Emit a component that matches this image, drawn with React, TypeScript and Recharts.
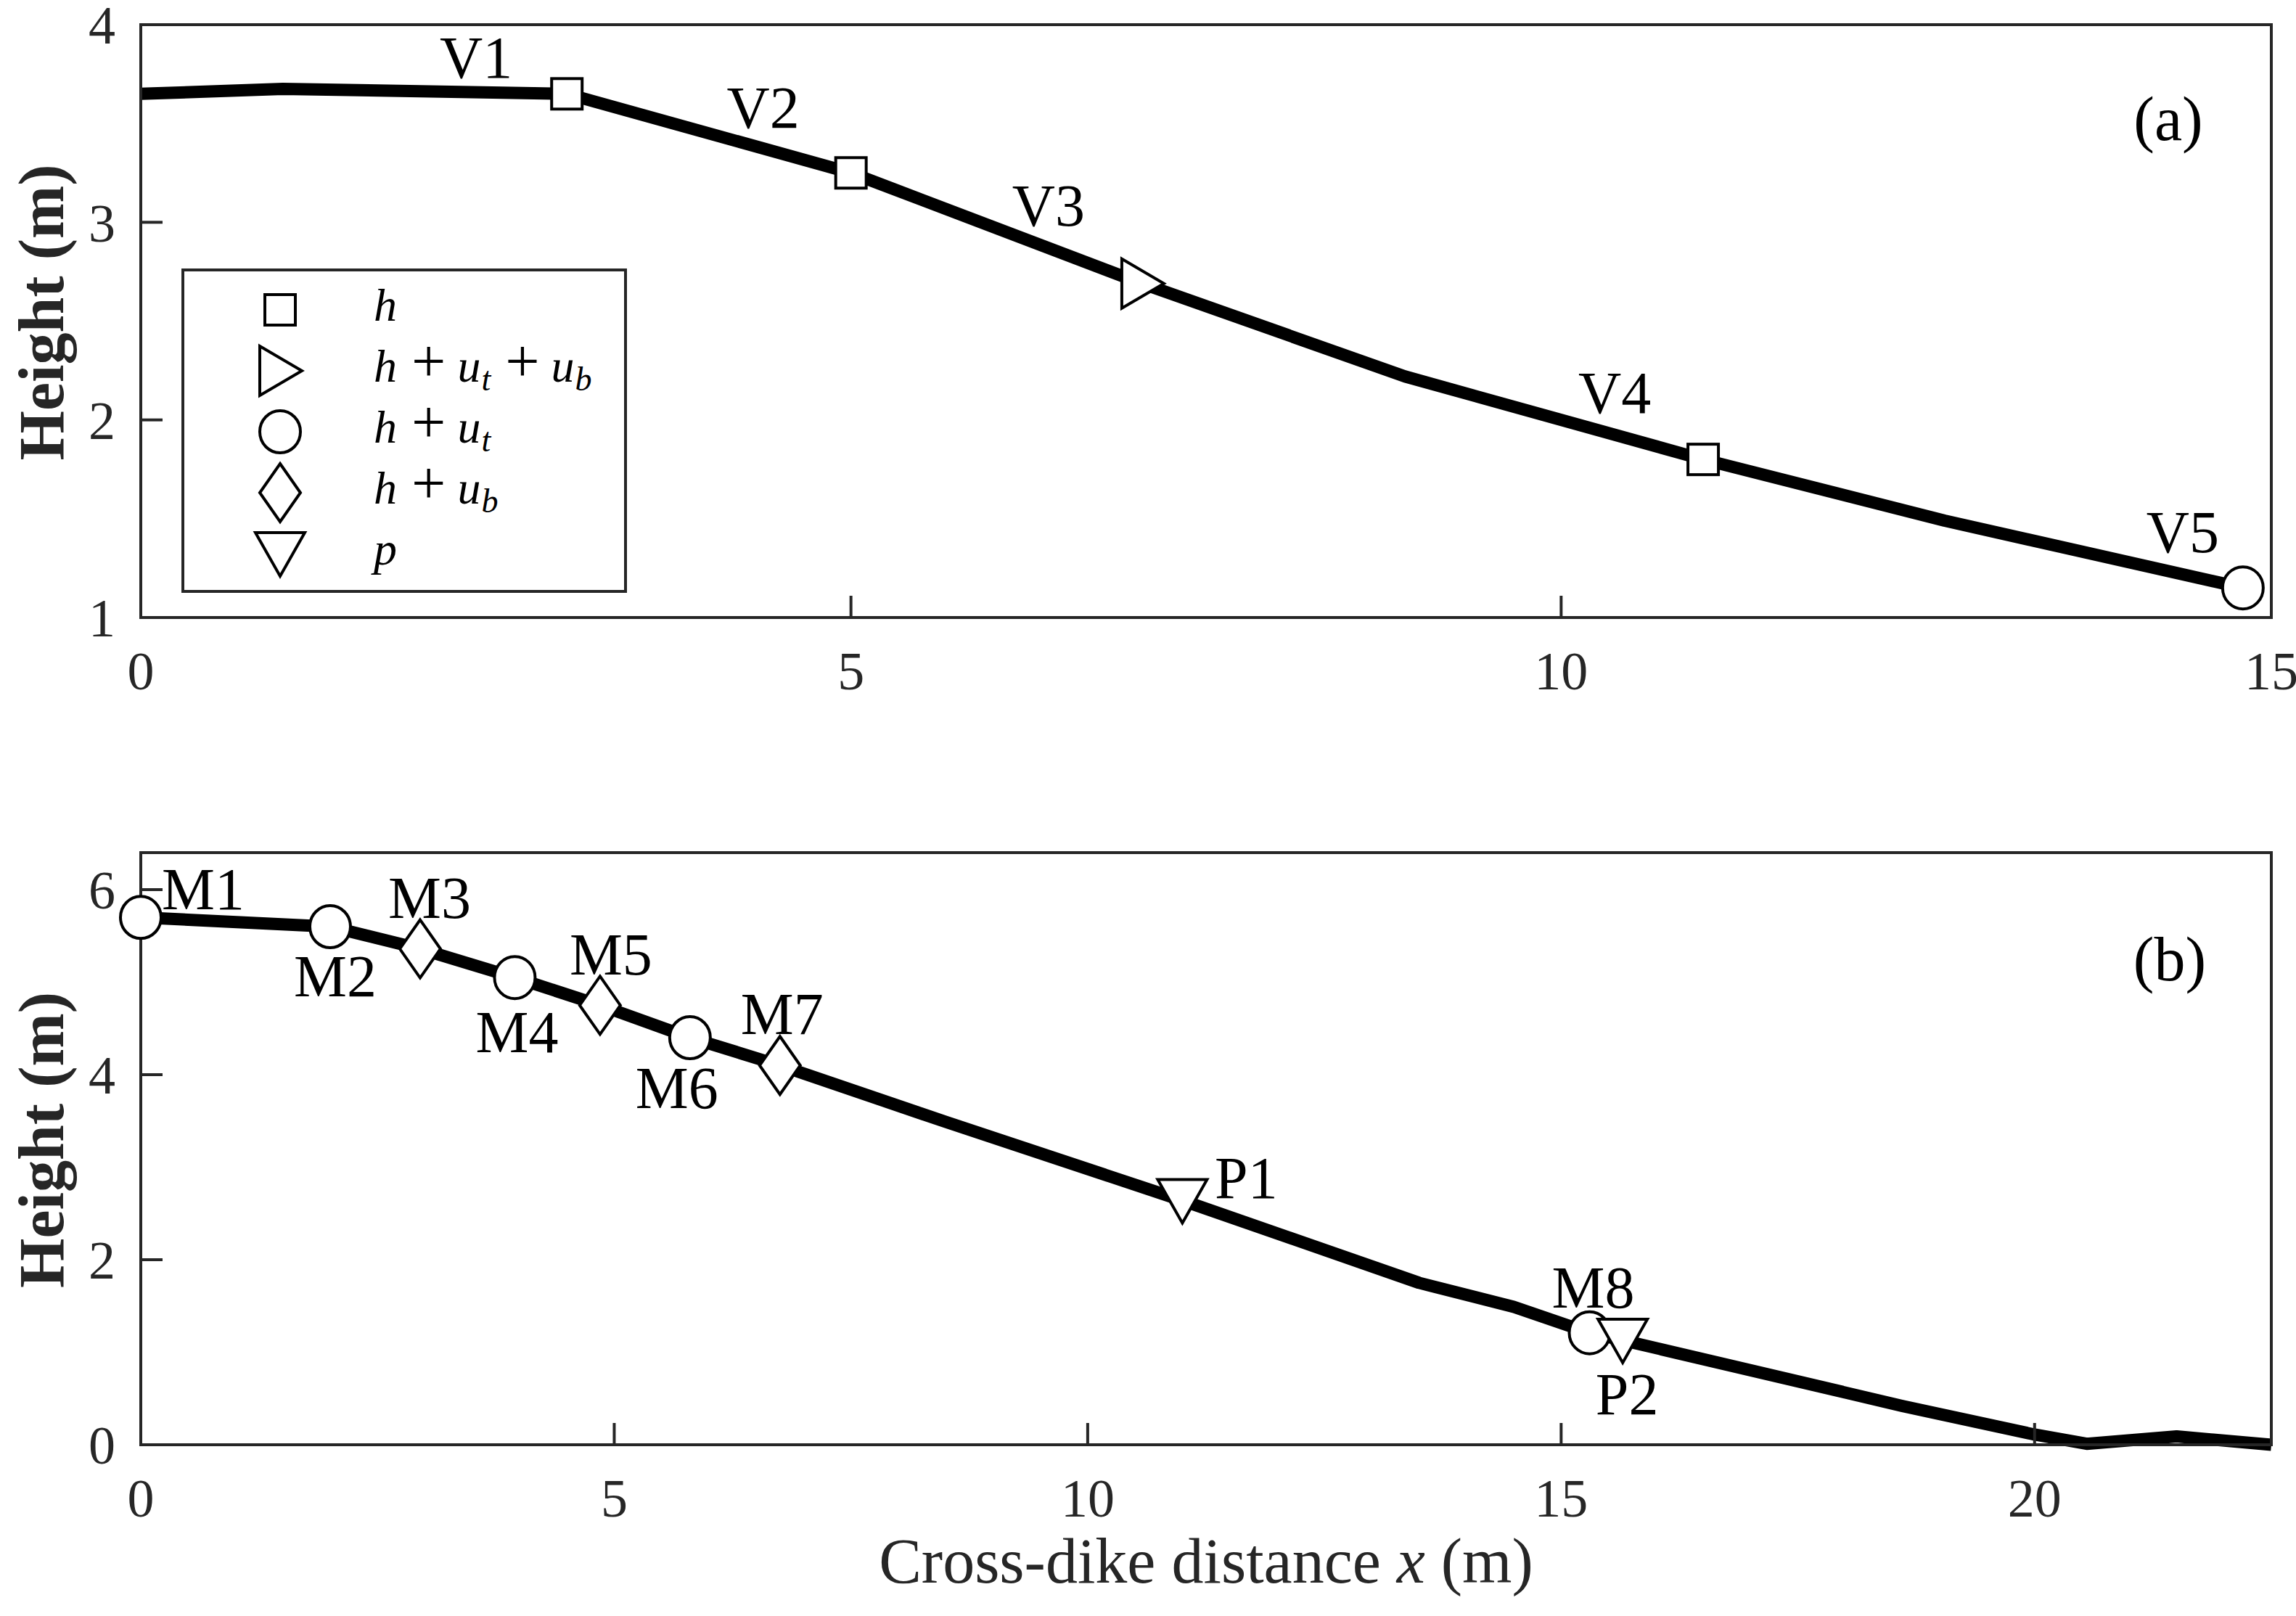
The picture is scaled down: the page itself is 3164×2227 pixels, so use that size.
import React from 'react';
import { ComposedChart, Line, Scatter, XAxis, YAxis, Legend, Label } from 'recharts';

// ---------- data: panel (a) ----------
const TOP_X_TICKS = [0, 5, 10, 15];
const TOP_Y_TICKS = [1, 2, 3, 4];
const TOP_PROFILE = [
  { x: 0, y: 3.65 },
  { x: 1.0, y: 3.675 },
  { x: 3.0, y: 3.65 },
  { x: 5.0, y: 3.25 },
  { x: 7.05, y: 2.69 },
  { x: 8.9, y: 2.22 },
  { x: 11.0, y: 1.8 },
  { x: 12.7, y: 1.49 },
  { x: 14.8, y: 1.15 },
];
const TOP_SQUARES = [
  { name: 'V1', x: 3.0, y: 3.65 },
  { name: 'V2', x: 5.0, y: 3.25 },
  { name: 'V4', x: 11.0, y: 1.8 },
];
const TOP_TRIANGLES_RIGHT = [{ name: 'V3', x: 7.05, y: 2.69 }];
const TOP_CIRCLES = [{ name: 'V5', x: 14.8, y: 1.15 }];

// ---------- data: panel (b) ----------
const BOTTOM_X_TICKS = [0, 5, 10, 15, 20];
const BOTTOM_Y_TICKS = [0, 2, 4, 6];
const BOTTOM_PROFILE = [
  { x: 0, y: 5.7 },
  { x: 2.0, y: 5.6 },
  { x: 2.95, y: 5.36 },
  { x: 3.95, y: 5.05 },
  { x: 4.85, y: 4.75 },
  { x: 5.8, y: 4.4 },
  { x: 6.75, y: 4.1 },
  { x: 8.5, y: 3.49 },
  { x: 11.0, y: 2.64 },
  { x: 13.5, y: 1.75 },
  { x: 14.5, y: 1.49 },
  { x: 15.3, y: 1.21 },
  { x: 15.65, y: 1.13 },
  { x: 18.6, y: 0.42 },
  { x: 20.0, y: 0.11 },
  { x: 20.55, y: 0.01 },
  { x: 21.5, y: 0.09 },
  { x: 22.5, y: 0.0 },
];
const BOTTOM_CIRCLES = [
  { name: 'M1', x: 0, y: 5.7 },
  { name: 'M2', x: 2.0, y: 5.6 },
  { name: 'M4', x: 3.95, y: 5.05 },
  { name: 'M6', x: 5.8, y: 4.4 },
  { name: 'M8', x: 15.3, y: 1.21 },
];
const BOTTOM_DIAMONDS = [
  { name: 'M3', x: 2.95, y: 5.36 },
  { name: 'M5', x: 4.85, y: 4.75 },
  { name: 'M7', x: 6.75, y: 4.1 },
];
const BOTTOM_TRIANGLES_DOWN = [
  { name: 'P1', x: 11.0, y: 2.64 },
  { name: 'P2', x: 15.65, y: 1.13 },
];

const LEGEND_ITEMS = [
  { kind: 'square', label: 'h' },
  { kind: 'triangleRight', label: 'h+u_t+u_b' },
  { kind: 'circle', label: 'h+u_t' },
  { kind: 'diamond', label: 'h+u_b' },
  { kind: 'triangleDown', label: 'p' },
];

// ---------- styles ----------
const FONT = '"Liberation Serif", "Times New Roman", Times, serif';
const AXIS_COLOR = '#262626';
const W = 3164;
const TICK_FONT = 74;
const LABEL_FONT = 82;
const AXIS_LABEL_FONT = 88;
const PROFILE_WIDTH = 17;

// label offsets (px) of point names relative to their marker centre
const LABEL_OFFSETS: Record<string, [number, number]> = {
  V1: [-125, -49],
  V2: [-121, -89],
  V3: [-129, -107],
  V4: [-122, -91],
  V5: [-83, -76],
  M1: [86, -38],
  M2: [7, 69],
  M3: [13, -70],
  M4: [3, 76],
  M5: [15, -69],
  M6: [-18, 70],
  M7: [3, -70],
  M8: [5, -62],
  P1: [88, -30],
  P2: [6, 75],
};

function Marker({ kind, cx, cy }: { kind: string; cx: number; cy: number }) {
  const common = { fill: '#fff', stroke: '#000', strokeWidth: 4, strokeLinejoin: 'miter' as const };
  switch (kind) {
    case 'square':
      return <rect x={cx - 21} y={cy - 21} width={42} height={42} {...common} />;
    case 'circle':
      return <ellipse cx={cx} cy={cy} rx={28} ry={29} {...common} />;
    case 'triangleRight':
      return <polygon points={`${cx - 28},${cy - 34} ${cx + 30},${cy} ${cx - 28},${cy + 34}`} {...common} />;
    case 'diamond':
      return <polygon points={`${cx},${cy - 40} ${cx + 28},${cy} ${cx},${cy + 40} ${cx - 28},${cy}`} {...common} />;
    case 'triangleDown':
      return <polygon points={`${cx - 34},${cy - 29} ${cx + 34},${cy - 29} ${cx},${cy + 31}`} {...common} />;
    default:
      return null;
  }
}

const makeShape = (kind: string) => (props: any) => {
  const { cx, cy, payload } = props;
  if (cx == null || cy == null) return <g />;
  const name = payload && payload.name;
  const off = LABEL_OFFSETS[name] || [0, 0];
  return (
    <g>
      <Marker kind={kind} cx={cx} cy={cy} />
      <text
        x={cx + off[0]}
        y={cy + off[1] + LABEL_FONT * 0.33}
        textAnchor="middle"
        fontSize={LABEL_FONT}
        fontFamily={FONT}
        fill="#000"
      >
        {name}
      </text>
    </g>
  );
};

function MathText({ text, x, y }: { text: string; x: number; y: number }) {
  const size = 64;
  const subSize = 46;
  const plusSize = 84;
  const subDrop = 12;
  const segs: { t: string; italic: boolean; sub: boolean; gap: number; fs: number }[] = [];
  text.split('+').forEach((term, i) => {
    if (i > 0) segs.push({ t: '+', italic: false, sub: false, gap: 20, fs: plusSize });
    const [base, sub] = term.split('_');
    segs.push({ t: base, italic: true, sub: false, gap: i > 0 ? 16 : 0, fs: size });
    if (sub) segs.push({ t: sub, italic: true, sub: true, gap: 1, fs: subSize });
  });
  let inSub = false;
  return (
    <text x={x} y={y} fontFamily={FONT} fontSize={size} fill="#000">
      {segs.map((s, i) => {
        let dy = 0;
        if (s.sub && !inSub) dy = subDrop;
        if (!s.sub && inSub) dy = -subDrop;
        inSub = s.sub;
        return (
          <tspan key={i} dx={s.gap} dy={dy} fontStyle={s.italic ? 'italic' : 'normal'} fontSize={s.fs}>
            {s.t}
          </tspan>
        );
      })}
    </text>
  );
}

const renderLegend = () => (
  <svg width={614} height={447} style={{ display: 'block', overflow: 'visible' }}>
    <rect x={2} y={2} width={610} height={443} fill="#fff" stroke={AXIS_COLOR} strokeWidth={4} />
    {LEGEND_ITEMS.map((item, i) => {
      const cy = 57 + i * 84;
      return (
        <g key={item.label}>
          <Marker kind={item.kind} cx={136} cy={cy} />
          <MathText text={item.label} x={265} y={cy + 15} />
        </g>
      );
    })}
  </svg>
);

const axisLineStyle = { stroke: AXIS_COLOR, strokeWidth: 4, strokeLinecap: 'square' as const };
const tickLineStyle = { stroke: AXIS_COLOR, strokeWidth: 4 };
const tickTextStyle = { fontSize: TICK_FONT, fill: AXIS_COLOR, fontFamily: FONT };

function yLabelContent(props: any) {
  const vb = props.viewBox || {};
  const x = vb.x + vb.width - 107;
  const cy = vb.y + vb.height / 2 - 12;
  return (
    <text
      x={x}
      y={cy}
      transform={`rotate(-90, ${x}, ${cy})`}
      textAnchor="middle"
      fontFamily={FONT}
      fontWeight="bold"
      fontSize={AXIS_LABEL_FONT}
      fill={AXIS_COLOR}
    >
      Height (m)
    </text>
  );
}

function xLabelContent(props: any) {
  const vb = props.viewBox || {};
  const x = vb.x + vb.width / 2;
  const y = vb.y + 190;
  return (
    <text x={x} y={y} textAnchor="middle" fontFamily={FONT} fontSize={AXIS_LABEL_FONT} fill={AXIS_COLOR}>
      <tspan>Cross-dike distance </tspan>
      <tspan fontStyle="italic">x</tspan>
      <tspan> (m)</tspan>
    </text>
  );
}

function Frame({ xDomain, yDomain, xTicks, yTicks, xLabel }: any) {
  return [
    <XAxis
      key="xb"
      xAxisId={0}
      type="number"
      dataKey="x"
      domain={xDomain}
      ticks={xTicks}
      interval={0}
      height={100}
      tickSize={-30}
      tickMargin={76}
      axisLine={axisLineStyle}
      tickLine={tickLineStyle}
      tick={tickTextStyle}
    >
      {xLabel ? <Label content={xLabelContent} /> : null}
    </XAxis>,
    <XAxis
      key="xt"
      xAxisId="top"
      orientation="top"
      type="number"
      dataKey="x"
      domain={xDomain}
      ticks={xTicks}
      allowDataOverflow
      interval={0}
      height={1}
      tickSize={-30}
      axisLine={axisLineStyle}
      tickLine={tickLineStyle}
      tick={false}
    />,
    <YAxis
      key="yl"
      yAxisId={0}
      type="number"
      domain={yDomain}
      ticks={yTicks}
      interval={0}
      width={120}
      tickSize={-30}
      tickMargin={65}
      axisLine={axisLineStyle}
      tickLine={tickLineStyle}
      tick={tickTextStyle}
    >
      <Label content={yLabelContent} />
    </YAxis>,
    <YAxis
      key="yr"
      yAxisId="right"
      orientation="right"
      type="number"
      domain={yDomain}
      ticks={yTicks}
      allowDataOverflow
      interval={0}
      width={1}
      tickSize={-30}
      axisLine={axisLineStyle}
      tickLine={tickLineStyle}
      tick={false}
    />,
  ];
}

function TopPanel() {
  return (
    <ComposedChart
      width={W}
      height={1000}
      margin={{ top: 33, right: 33, bottom: 49, left: 74 }}
      style={{ fontFamily: FONT }}
    >
      {Frame({ xDomain: [0, 15], yDomain: [1, 4], xTicks: TOP_X_TICKS, yTicks: TOP_Y_TICKS, xLabel: false })}
      <Line
        data={TOP_PROFILE}
        dataKey="y"
        type="linear"
        stroke="#000"
        strokeWidth={PROFILE_WIDTH}
        strokeLinejoin="round"
        dot={false}
        activeDot={false}
        isAnimationActive={false}
      />
      <Scatter data={TOP_CIRCLES} dataKey="y" shape={makeShape('circle')} isAnimationActive={false} />
      <Scatter data={TOP_SQUARES} dataKey="y" shape={makeShape('square')} isAnimationActive={false} />
      <Scatter data={TOP_TRIANGLES_RIGHT} dataKey="y" shape={makeShape('triangleRight')} isAnimationActive={false} />
      <Legend
        layout="vertical"
        align="center"
        verticalAlign="middle"
        content={renderLegend}
        wrapperStyle={{ position: 'absolute', left: 250, top: 370, width: 614, height: 447 }}
      />
      <text x={2988} y={193} textAnchor="middle" fontFamily={FONT} fontSize={LABEL_FONT + 4} fill="#000">
        (a)
      </text>
    </ComposedChart>
  );
}

function BottomPanel() {
  return (
    <ComposedChart
      width={W}
      height={1127}
      margin={{ top: 74, right: 33, bottom: 136, left: 74 }}
      style={{ fontFamily: FONT }}
    >
      {Frame({ xDomain: [0, 22.5], yDomain: [0, 6.4], xTicks: BOTTOM_X_TICKS, yTicks: BOTTOM_Y_TICKS, xLabel: true })}
      <Line
        data={BOTTOM_PROFILE}
        dataKey="y"
        type="linear"
        stroke="#000"
        strokeWidth={PROFILE_WIDTH}
        strokeLinejoin="round"
        dot={false}
        activeDot={false}
        isAnimationActive={false}
      />
      <Scatter data={BOTTOM_CIRCLES} dataKey="y" shape={makeShape('circle')} isAnimationActive={false} />
      <Scatter data={BOTTOM_DIAMONDS} dataKey="y" shape={makeShape('diamond')} isAnimationActive={false} />
      <Scatter data={BOTTOM_TRIANGLES_DOWN} dataKey="y" shape={makeShape('triangleDown')} isAnimationActive={false} />
      <text x={2990} y={251} textAnchor="middle" fontFamily={FONT} fontSize={LABEL_FONT + 4} fill="#000">
        (b)
      </text>
    </ComposedChart>
  );
}

export default function App() {
  return (
    <div style={{ position: 'absolute', left: 0, top: 0, width: W, height: 2227, background: '#fff' }}>
      <div style={{ position: 'absolute', left: 0, top: 0 }}>
        <TopPanel />
      </div>
      <div style={{ position: 'absolute', left: 0, top: 1100 }}>
        <BottomPanel />
      </div>
    </div>
  );
}
